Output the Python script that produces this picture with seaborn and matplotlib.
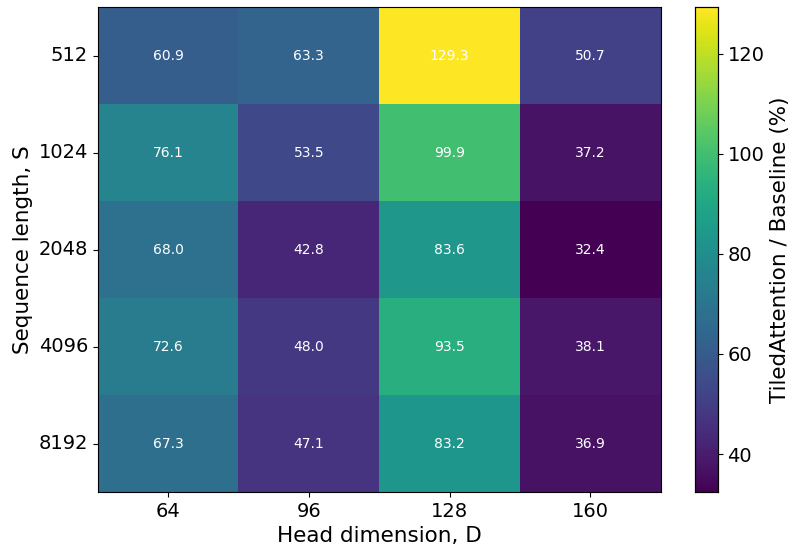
import numpy as np
import pandas as pd
import matplotlib
matplotlib.use("Agg")
import matplotlib.pyplot as plt
import seaborn as sns

head_dims = [64, 96, 128, 160]
seq_lens = [512, 1024, 2048, 4096, 8192]
ratio_512 = [60.9, 63.3, 129.3, 50.7]
ratio_1024 = [76.1, 53.5, 99.9, 37.2]
ratio_2048 = [68.0, 42.8, 83.6, 32.4]
ratio_4096 = [72.6, 48.0, 93.5, 38.1]
ratio_8192 = [67.3, 47.1, 83.2, 36.9]

df = pd.DataFrame([ratio_512, ratio_1024, ratio_2048, ratio_4096, ratio_8192],
                  index=seq_lens, columns=head_dims)

fig = plt.figure(figsize=(7.94, 5.48), dpi=100)
ax = fig.add_axes([0.123, 0.102, 0.709, 0.885])
cax = fig.add_axes([0.875, 0.102, 0.029, 0.885])

sns.heatmap(df, ax=ax, cbar_ax=cax, cmap="viridis", annot=True, fmt=".1f",
            annot_kws={"color": "white", "fontsize": 10})
for t in ax.texts:
    t.set_color("white")

for s in ax.spines.values():
    s.set_visible(True)
    s.set_color("black")
    s.set_linewidth(0.8)

ax.set_xlabel("Head dimension, D", fontsize=15.5)
ax.set_ylabel("Sequence length, S", fontsize=15.5)
ax.tick_params(axis="both", labelsize=14)
ax.tick_params(axis="y", rotation=0)

cax.set_ylabel("TiledAttention / Baseline (%)", fontsize=15.5)
cax.tick_params(labelsize=14)
cax.set_yticks([40, 60, 80, 100, 120])
for s in cax.spines.values():
    s.set_visible(True)
    s.set_color("black")
    s.set_linewidth(0.8)

fig.savefig("out.png", dpi=100)
